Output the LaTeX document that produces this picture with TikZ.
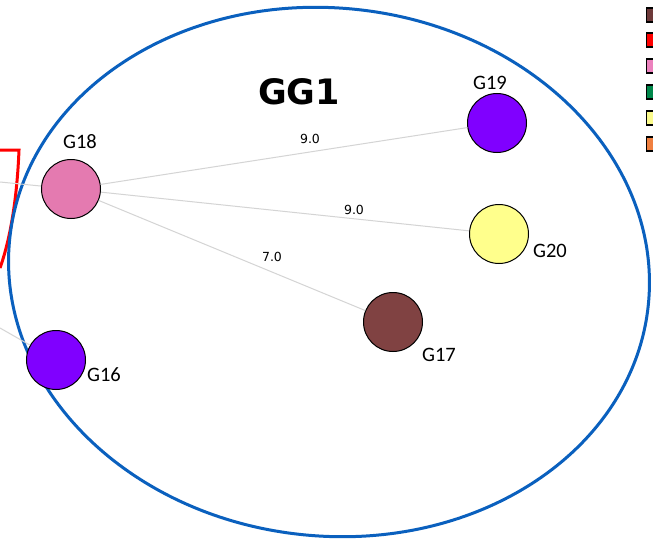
\documentclass[tikz,border=0pt]{standalone}
\usepackage{fontspec}
\setmainfont{Carlito}
\newfontfamily\edgefont{DejaVu Sans}
\newfontfamily\titlefont{DejaVu Sans}
\definecolor{ringblue}{RGB}{10,96,190}
\definecolor{gbrown}{RGB}{128,66,66}
\definecolor{gpurple}{RGB}{128,0,255}
\definecolor{gpink}{RGB}{228,122,176}
\definecolor{gyellow}{RGB}{255,255,140}
\definecolor{lgbrown}{RGB}{110,58,58}
\definecolor{lgred}{RGB}{255,0,0}
\definecolor{lgpink}{RGB}{236,130,190}
\definecolor{lggreen}{RGB}{0,135,75}
\definecolor{lgyellow}{RGB}{250,250,140}
\definecolor{lgorange}{RGB}{240,128,64}
\definecolor{edgegray}{RGB}{212,212,212}
\tikzset{
  gnode/.style={circle, draw=black, line width=1pt, minimum size=59pt, inner sep=0pt},
  glabel/.style={font=\fontsize{20.5}{22}\selectfont, text=black, inner sep=0pt},
  elabel/.style={font=\edgefont\fontsize{12.5}{14}\selectfont, text=black, inner sep=0pt},
  gedge/.style={draw=edgegray, line width=1pt},
  legbox/.style={draw=black, line width=1.2pt, minimum size=14pt, inner sep=0pt, anchor=west}
}
\begin{document}
\begin{tikzpicture}[x=1pt,y=-1pt]
\useasboundingbox (0,0) rectangle (653,543);
\fill[white] (0,0) rectangle (653,543);
% red partial shape
\draw[red, line width=3pt] (0,150) -- (19,150) .. controls (17,200) and (10,240) .. (0,268);
% blue ellipse
\draw[ringblue, line width=3pt, rotate around={-6:(329,272)}] (329,272) ellipse [x radius=321, y radius=264];
% free ends
\coordinate (l1) at (0,182);
\coordinate (l2) at (0,328);
% nodes
\node[gnode, fill=gpink] (g18) at (71,189) {};
\node[gnode, fill=gpurple] (g19) at (497,123) {};
\node[gnode, fill=gyellow] (g20) at (499,234) {};
\node[gnode, fill=gbrown] (g17) at (393,322) {};
\node[gnode, fill=gpurple] (g16) at (56,360) {};
% edges
\draw[gedge] (g18) -- (g19);
\draw[gedge] (g18) -- (g20);
\draw[gedge] (g18) -- (g17);
\draw[gedge] (g18) -- (l1);
\draw[gedge] (g16) -- (l2);
% labels
\node[glabel] (t18) at (80,142) {G18};
\node[glabel] (t19) at (490,83) {G19};
\node[glabel] (t20) at (550,251) {G20};
\node[glabel] (t17) at (439,355) {G17};
\node[glabel] (t16) at (104,375) {G16};
\node[elabel] (e1) at (310,139) {9.0};
\node[elabel] (e2) at (354,210) {9.0};
\node[elabel] (e3) at (272,257) {7.0};
\node[font=\titlefont\bfseries\fontsize{35}{36}\selectfont, inner sep=0pt] (title) at (299,92) {GG1};
% legend
\node[legbox, fill=lgbrown] (k1) at (646,15) {};
\node[legbox, fill=lgred] (k2) at (646,40) {};
\node[legbox, fill=lgpink] (k3) at (646,66) {};
\node[legbox, fill=lggreen] (k4) at (646,92) {};
\node[legbox, fill=lgyellow] (k5) at (646,118) {};
\node[legbox, fill=lgorange] (k6) at (646,144) {};
\end{tikzpicture}
\end{document}
